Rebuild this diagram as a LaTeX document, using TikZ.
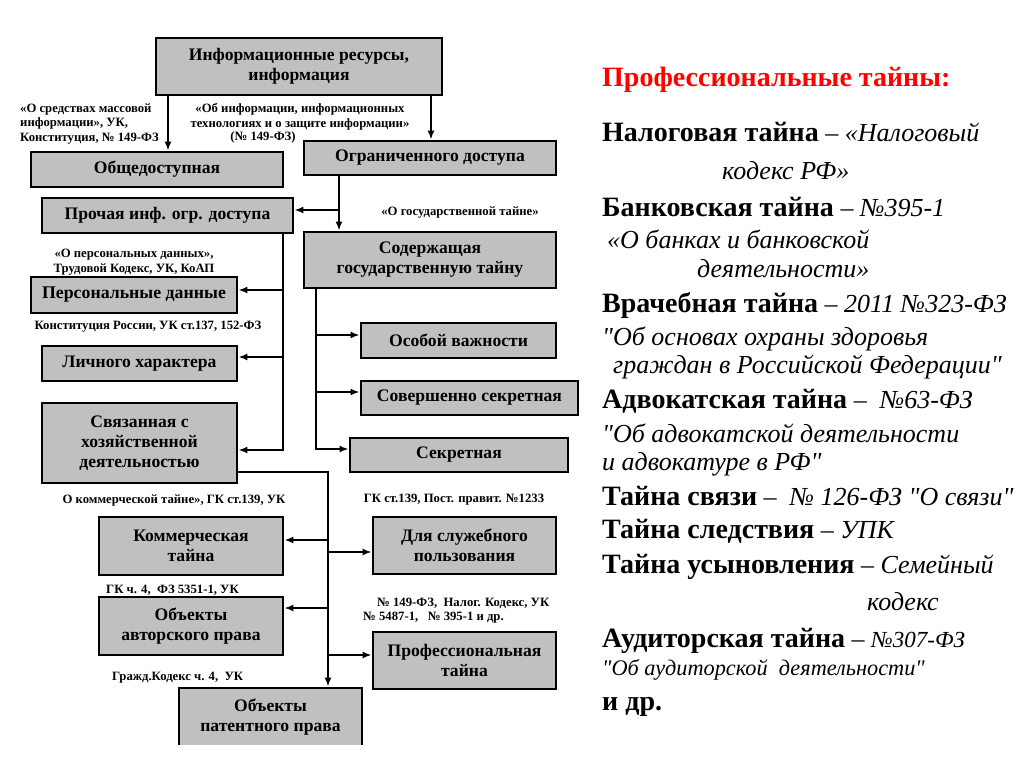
\documentclass[tikz,border=0pt]{standalone}
\usepackage{fontspec}
\setmainfont{Liberation Serif}[Ligatures=TeXOff]
\usepackage{tikz}
\usetikzlibrary{arrows.meta,positioning,calc}
\definecolor{boxgray}{HTML}{C0C0C0}
\definecolor{titlered}{HTML}{FF0000}
\newcommand{\boxfont}{\bfseries\fontsize{17.6}{20}\selectfont}
\newcommand{\lblfont}{\bfseries\fontsize{12.7}{14.5}\selectfont}
\newcommand{\bigfont}{\fontsize{26}{30}\selectfont}
\newcommand{\bt}[1]{{\bfseries\fontsize{28}{32}\selectfont #1}}

\begin{document}
\begin{tikzpicture}[x=1pt,y=-1pt,
    box/.style={draw,line width=2.8pt,fill=boxgray,inner sep=0pt,align=center,font=\boxfont},
    lbl/.style={inner sep=0pt,font=\lblfont},
    arr/.style={line width=2.4pt,-{Latex[length=9pt,width=7pt]}},
    txt/.style={inner sep=0pt,anchor=base west,font=\bigfont}]
    \useasboundingbox (0,0) rectangle (1024,767);

    % Boxes
    \node[box,minimum width=286,minimum height=57] (info) at (299,66.5) {Информационные ресурсы,\\информация};
    \node[box,minimum width=252,minimum height=35] (obsch) at (157,169.5) {Общедоступная};
    \node[box,minimum width=252,minimum height=34] (ogr) at (430,158) {Ограниченного доступа};
    \node[box,minimum width=251,minimum height=35] (proch) at (167.5,215.5) {Прочая инф. огр. доступа};
    \node[box,minimum width=252,minimum height=56] (gos) at (430,260) {Содержащая\\государственную тайну};
    \node[box,minimum width=206,minimum height=36,font=\bfseries\fontsize{17.8}{21}\selectfont] (pers) at (134,295) {Персональные данные};
    \node[box,minimum width=195,minimum height=35] (lich) at (139.5,363.5) {Личного характера};
    \node[box,minimum width=195,minimum height=80] (svyaz) at (139.5,443) {Связанная с\\хозяйственной\\деятельностью};
    \node[box,minimum width=195,minimum height=35] (osob) at (458.5,340.5) {Особой важности};
    \node[box,minimum width=217,minimum height=34] (sov) at (469.5,398) {Совершенно секретная};
    \node[box,minimum width=218,minimum height=34] (sekr) at (459,455) {Секретная};
    \node[box,minimum width=184,minimum height=58] (komm) at (191,546) {Коммерческая\\тайна};
    \node[box,minimum width=183,minimum height=57] (sluzh) at (464.5,545.5) {Для служебного\\пользования};
    \node[box,minimum width=184,minimum height=58] (avt) at (191,626) {Объекты\\авторского права};
    \node[box,minimum width=183,minimum height=57] (prof) at (464.5,660.5) {Профессиональная\\тайна};
    \begin{scope}
        \clip (0,0) rectangle (1024,744);
        \node[box,minimum width=183,minimum height=58] (pat) at (270.5,717) {Объекты\\патентного права};
    \end{scope}

    % Laws
    \node[lbl,anchor=north west,align=left] (l1) at (20,103.5) {«О средствах массовой\\информации», УК,\\Конституция, № 149-ФЗ};
    \node[lbl,anchor=north,align=center] (l2) at (300,103.5) {«Об информации, информационных\\технологиях и о защите информации»};
    \node[lbl] (l2b) at (263,137.5) {(№ 149-ФЗ)};
    \node[lbl] (l3) at (460,212) {«О государственной тайне»};
    \node[lbl,align=center] (l4) at (134,262) {«О персональных данных»,\\Трудовой Кодекс, УК, КоАП};
    \node[lbl] (l5) at (148,327) {Конституция России, УК ст.137, 152-ФЗ};
    \node[lbl] (l6) at (174,500) {О коммерческой тайне», ГК ст.139, УК};
    \node[lbl] (l7) at (454,500) {ГК ст.139, Пост. правит. №1233};
    \node[lbl,anchor=west] (l8) at (106,590) {ГК ч. 4,\ \ ФЗ 5351-1, УК};
    \node[lbl,anchor=west] (l9) at (377,603) {№ 149-ФЗ,\ \ Налог. Кодекс, УК};
    \node[lbl,anchor=west] (l9b) at (363,618) {№ 5487-1,\ \ \ № 395-1 и др.};
    \node[lbl,anchor=west] (l10) at (112,678) {Гражд.Кодекс ч. 4,\ \ УК};

    % Connectors
    \draw[arr] (168,0 |- info.south) -- (168,0 |- obsch.north);
    \draw[arr] (431,0 |- info.south) -- (431,0 |- ogr.north);
    \draw[arr] (339,0 |- ogr.south) -- (339,0 |- gos.north);
    \draw[arr] (339,210) -- (proch.east |- 0,210);

    \draw[arr] (283,0 |- proch.south) -- (283,450) -- (svyaz.east |- 0,450);
    \draw[arr] (283,290) -- (pers.east |- 0,290);
    \draw[arr] (283,357) -- (lich.east |- 0,357);

    \draw[arr] (316,0 |- gos.south) -- (316,449) -- (sekr.west |- 0,449);
    \draw[arr] (316,335) -- (osob.west |- 0,335);
    \draw[arr] (316,392) -- (sov.west |- 0,392);

    \draw[arr] (svyaz.east |- 0,472) -- (328,472) -- (328,0 |- pat.north);
    \draw[arr] (328,540) -- (komm.east |- 0,540);
    \draw[arr] (328,552) -- (sluzh.west |- 0,552);
    \draw[arr] (328,608) -- (avt.east |- 0,608);
    \draw[arr] (328,655) -- (prof.west |- 0,655);

    % Professional secrets
    \node[txt,text=titlered] (title) at (602,87) {\bt{Профессиональные тайны:}};
    \node[txt] (nal) at (602,142) {\bt{Налоговая тайна} – \textit{«Налоговый}};
    \node[txt] (nal2) at (722,180) {\textit{кодекс РФ»}};
    \node[txt] (bank) at (602,217) {\bt{Банковская тайна} – \textit{№395-1}};
    \node[txt] (bank2) at (607,248) {\textit{«О банках и банковской}};
    \node[txt] (bank3) at (697,277) {\textit{деятельности»}};
    \node[txt] (vrach) at (602,312) {\bt{Врачебная тайна} – \textit{2011 №323-ФЗ}};
    \node[txt] (vrach2) at (602,345) {\textit{"Об основах охраны здоровья}};
    \node[txt] (vrach3) at (613,373) {\textit{граждан в Российской Федерации"}};
    \node[txt] (adv) at (602,408) {\bt{Адвокатская тайна} –\ \ \textit{№63-ФЗ}};
    \node[txt] (adv2) at (602,442) {\textit{"Об адвокатской деятельности}};
    \node[txt] (adv3) at (602,470) {\textit{и адвокатуре в РФ"}};
    \node[txt] (svz) at (602,505) {\bt{Тайна связи} –\ \ \textit{№ 126-ФЗ "О связи"}};
    \node[txt] (sled) at (602,538) {\bt{Тайна следствия} – \textit{УПК}};
    \node[txt] (usyn) at (602,573) {\bt{Тайна усыновления} – \textit{Семейный}};
    \node[txt] (usyn2) at (867,610) {\textit{кодекс}};
    \node[txt] (aud) at (602,647) {\bt{Аудиторская тайна} – \textit{\fontsize{23}{26}\selectfont №307-ФЗ}};
    \node[txt,font=\fontsize{22.3}{25}\selectfont] (aud2) at (602,675) {\textit{"Об аудиторской\ \ деятельности"}};
    \node[txt] (dr) at (602,710) {\bt{и др.}};
\end{tikzpicture}
\end{document}
